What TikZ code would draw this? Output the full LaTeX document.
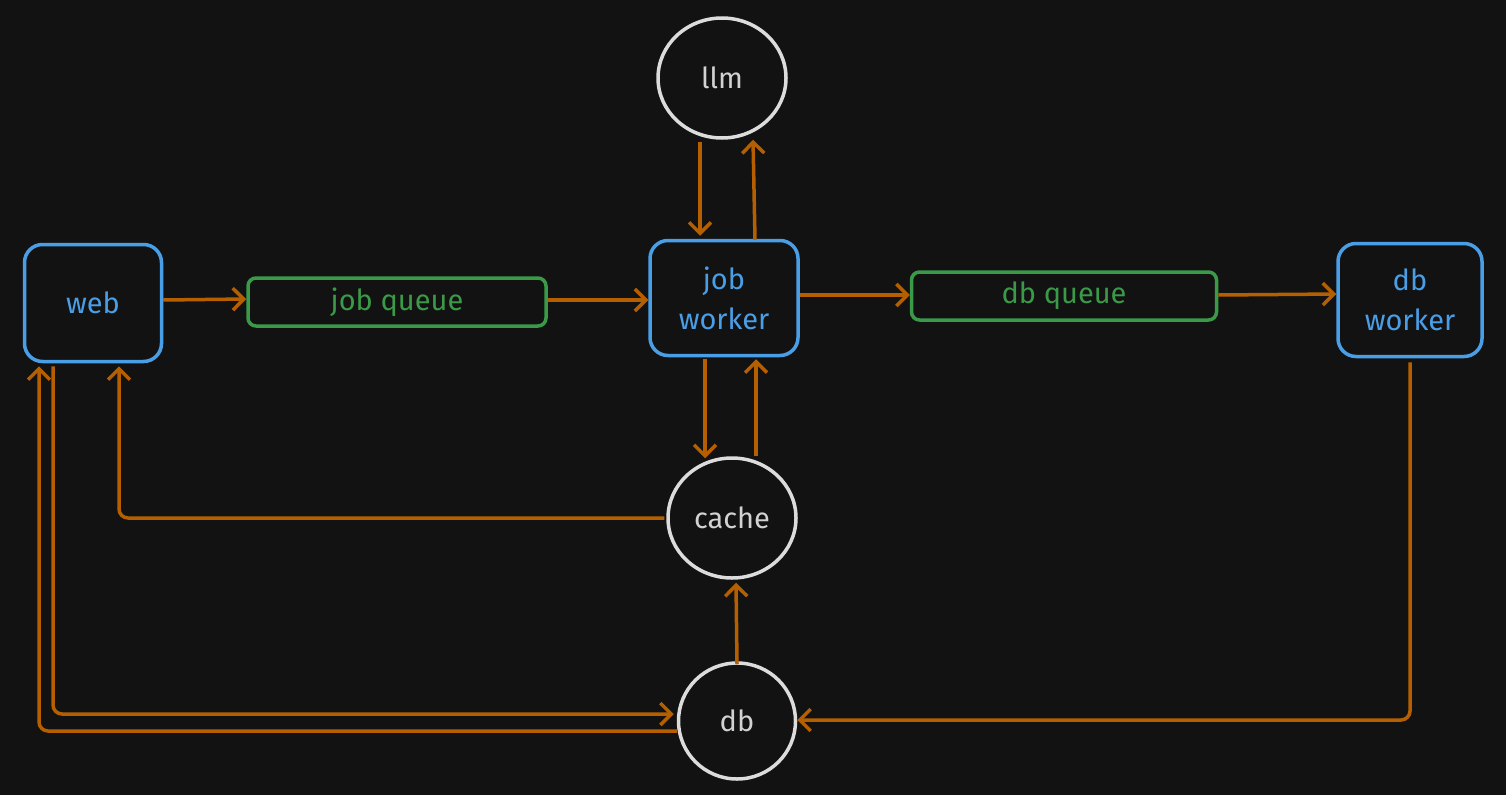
\documentclass[tikz,border=0pt]{standalone}
\usepackage{fontspec}
\setmainfont{Fira Sans}
\usetikzlibrary{arrows.meta,shapes.geometric}
\definecolor{bgdark}{HTML}{121212}
\definecolor{svcblue}{HTML}{4A9EE6}
\definecolor{qgreen}{HTML}{3A9A48}
\definecolor{flowor}{HTML}{B55F00}
\definecolor{storegray}{HTML}{DCDCDC}
\definecolor{textgray}{HTML}{D2D2D2}
\tikzset{
  service/.style={draw=svcblue, text=svcblue, line width=3.5pt, rounded corners=18pt,
    fill=bgdark, align=center},
  queue/.style={draw=qgreen, text=qgreen, line width=3.5pt, rounded corners=8pt,
    fill=bgdark, minimum height=48pt},
  store/.style={draw=storegray, text=textgray, line width=3.5pt, ellipse, fill=bgdark},
  flow/.style={draw=flowor, line width=3.5pt, rounded corners=9pt,
    -{Straight Barb[length=11pt,width=22pt,line width=3.5pt]}},
}
\begin{document}
\begin{tikzpicture}[x=1pt,y=-1pt]
\tikzstyle{every node}+=[inner sep=0pt, font=\fontsize{29}{40}\selectfont]
\fill [bgdark] (0,0) rectangle (1506,795);
\useasboundingbox (0,0) rectangle (1506,795);
\node [service, minimum width=137pt, minimum height=117pt] (web) at (93,303) {web};
\node [queue, minimum width=298pt] (jobq) at (397,302) {job queue};
\node [service, minimum width=148pt, minimum height=115pt] (jobw) at (724,298) {job\\worker};
\node [queue, minimum width=305pt] (dbq) at (1064,296) {db queue};
\node [service, minimum width=144pt, minimum height=113pt] (dbw) at (1410,300) {db\\worker};
\node [store, minimum width=128pt, minimum height=120pt] (llm) at (722,78) {llm};
\node [store, minimum width=128pt, minimum height=120pt] (cache) at (732,518) {cache};
\node [store, minimum width=117pt, minimum height=116pt] (db) at (737,721) {db};
\draw [flow] ([yshift=3pt]web.east) -- ([yshift=3pt]jobq.west);
\draw [flow] ([yshift=2pt]jobq.east) -- ([yshift=-2pt]jobw.west);
\draw [flow] ([yshift=3pt]jobw.east) -- ([yshift=1pt]dbq.west);
\draw [flow] ([yshift=1pt]dbq.east) -- ([yshift=6pt]dbw.west);
\draw [flow] ([xshift=-22pt,yshift=-2pt]llm.south) -- ([xshift=-24pt,yshift=3pt]jobw.north);
\draw [flow] ([xshift=31pt,yshift=-1pt]jobw.north) -- ([xshift=31pt]llm.south);
\draw [flow] ([xshift=-19pt,yshift=-2pt]jobw.south) -- ([xshift=-27pt,yshift=-2pt]cache.north);
\draw [flow] ([xshift=24pt]cache.north) -- ([xshift=32pt,yshift=-2pt]jobw.south);
\draw [flow] ([xshift=-2pt]cache.west) -| ([xshift=26pt,yshift=-3pt]web.south);
\draw [flow] ([yshift=-3pt]db.north) -- ([xshift=4pt,yshift=-3pt]cache.south);
\draw [flow] ([xshift=-40pt,yshift=-3pt]web.south) |- ([xshift=-3pt,yshift=7pt]db.west);
\draw [flow] ([yshift=-10pt]db.west) -| ([xshift=-54pt,yshift=-3pt]web.south);
\draw [flow] ([yshift=-4pt]dbw.south) |- ([yshift=1pt]db.east);
\end{tikzpicture}
\end{document}
